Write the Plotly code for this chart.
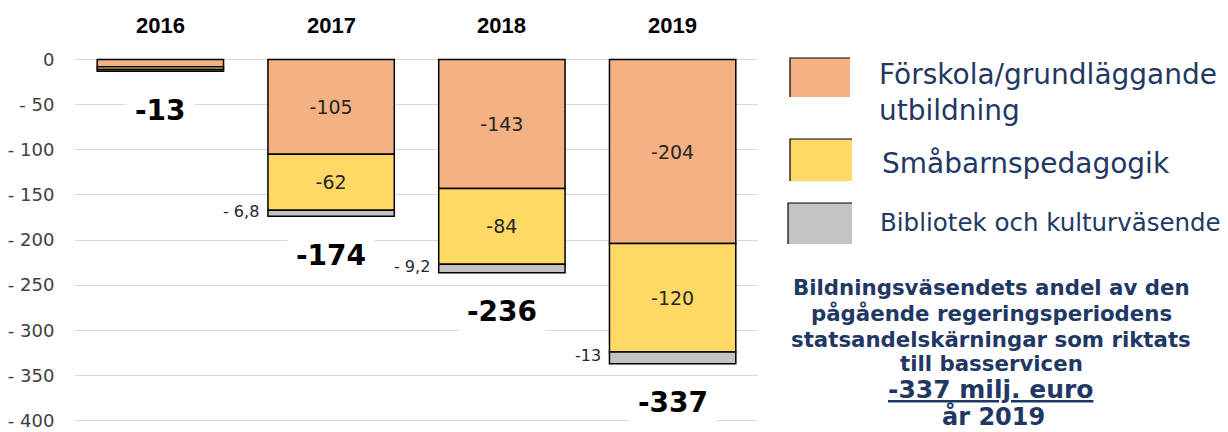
import plotly.graph_objects as go

# ---- data ----
years = ["2016", "2017", "2018", "2019"]
forskola = [-8, -105, -143, -204]
smabarn = [-3, -62, -84, -120]
bibliotek = [-2, -6.8, -9.2, -13]
totals = [-13, -174, -236, -337]
forskola_labels = ["", "-105", "-143", "-204"]
smabarn_labels = ["", "-62", "-84", "-120"]
bibliotek_labels = ["", "- 6,8", "- 9,2", "-13"]
series_names = ["Förskola/grundläggande<br>utbildning", "Småbarnspedagogik", "Bibliotek och kulturväsende"]
note_lines = ["Bildningsväsendets andel av den", "pågående regeringsperiodens",
              "statsandelskärningar som riktats", "till basservicen"]
y_ticks = [0, -50, -100, -150, -200, -250, -300, -350, -400]
y_ticktext = ["0", "- 50", "- 100", "- 150", "- 200", "- 250", "- 300", "- 350", "- 400"]

colors = ["#F4B183", "#FFD966", "#C3C3C3"]
navy = "#1F3864"

# the page body adds an 8px margin, so the figure is made 8px smaller
OFF = 8
W, H = 1228 - OFF, 432 - OFF
L, R, T, B = 75 - OFF, 758 - OFF, 55 - OFF, 425 - OFF


def px(x):
    return (x - OFF - L) / (R - L)


def py(y):
    return (B - (y - OFF)) / (B - T)


fig = go.Figure()
for vals, labels, col in [(forskola, forskola_labels, colors[0]),
                          (smabarn, smabarn_labels, colors[1]),
                          (bibliotek, ["" for _ in years], colors[2])]:
    fig.add_trace(go.Bar(
        x=years, y=vals, text=labels, textposition="inside",
        insidetextanchor="middle", textangle=0,
        textfont=dict(family="DejaVu Sans", size=19, color="#262626"),
        marker=dict(color=col, line=dict(color="black", width=1.5)),
        showlegend=False, hoverinfo="skip"))

annotations = []
# year labels on top
for i, yr in enumerate(years):
    annotations.append(dict(x=i, xref="x", y=1, yref="paper", yanchor="bottom",
                            yshift=15, text=f"<b>{yr}</b>", showarrow=False,
                            font=dict(family="Liberation Sans", size=22, color="black")))
# totals
for i, tot in enumerate(totals):
    annotations.append(dict(x=i, y=tot, xref="x", yref="y", yanchor="middle",
                            yshift=-39, text=f"<b>{tot}</b>", showarrow=False,
                            bgcolor="white", borderpad=8,
                            font=dict(family="DejaVu Sans", size=28, color="black")))
# small segment labels left of bars
for i, lab in enumerate(bibliotek_labels):
    if not lab:
        continue
    mid = forskola[i] + smabarn[i] + bibliotek[i] / 2
    annotations.append(dict(x=i, y=mid, xref="x", yref="y", xanchor="right",
                            yanchor="middle", xshift=-70, yshift=2, text=lab,
                            showarrow=False,
                            font=dict(family="DejaVu Sans", size=16, color="#262626")))

# legend (custom)
shapes = []
legend_boxes = [(790, 58, 850, 97), (790, 139, 852, 181), (788, 203, 852, 244)]
legend_text_pos = [(877, 93, 28), (880, 163, 28), (878, 222, 24.5)]
for (x0, y0, x1, y1), col in zip(legend_boxes, colors):
    shapes.append(dict(type="rect", xref="paper", yref="paper",
                       x0=px(x0), x1=px(x1), y0=py(y1), y1=py(y0),
                       fillcolor=col, line=dict(width=0)))
    shapes.append(dict(type="path", xref="paper", yref="paper",
                       path=f"M {px(x0)},{py(y1)} L {px(x0)},{py(y0)} L {px(x1)},{py(y0)}",
                       line=dict(color="black", width=1.2)))
for name, (tx, ty, fs) in zip(series_names, legend_text_pos):
    annotations.append(dict(x=px(tx), y=py(ty), xref="paper", yref="paper",
                            xanchor="left", yanchor="middle", text=name,
                            showarrow=False, align="left",
                            font=dict(family="DejaVu Sans", size=fs, color=navy)))

# side note
for line, ly in zip(note_lines, [287, 313, 339, 363]):
    annotations.append(dict(x=px(991), y=py(ly), xref="paper", yref="paper",
                            xanchor="center", yanchor="middle", showarrow=False,
                            text=f"<b>{line}</b>",
                            font=dict(family="DejaVu Sans", size=21.3, color=navy)))
annotations.append(dict(x=px(990), y=py(389), xref="paper", yref="paper",
                        xanchor="center", yanchor="middle", showarrow=False,
                        text=f"<b><u>{totals[-1]} milj. euro</u></b>",
                        font=dict(family="DejaVu Sans", size=25, color=navy)))
annotations.append(dict(x=px(993), y=py(416), xref="paper", yref="paper",
                        xanchor="center", yanchor="middle", showarrow=False,
                        text=f"<b>år {years[-1]}</b>",
                        font=dict(family="DejaVu Sans", size=24, color=navy)))

fig.update_layout(
    width=W, height=H, barmode="relative", bargap=0.26,
    margin=dict(l=L, r=W - R, t=T, b=H - B, pad=0, autoexpand=False),
    paper_bgcolor="white", plot_bgcolor="white",
    annotations=annotations, shapes=shapes,
    xaxis=dict(type="category", showticklabels=False, showgrid=False, zeroline=False,
               showline=False, range=[-0.5, 3.5], automargin=False),
    yaxis=dict(range=[-405, 5], tickvals=y_ticks, ticktext=y_ticktext,
               showgrid=True, gridcolor="#D9D9D9", gridwidth=1,
               zeroline=False, showline=False, automargin=False,
               ticks="outside", ticklen=16, tickcolor="rgba(0,0,0,0)",
               tickfont=dict(family="DejaVu Sans", size=18, color="#404040")),
)

fig.write_html("out.html")
